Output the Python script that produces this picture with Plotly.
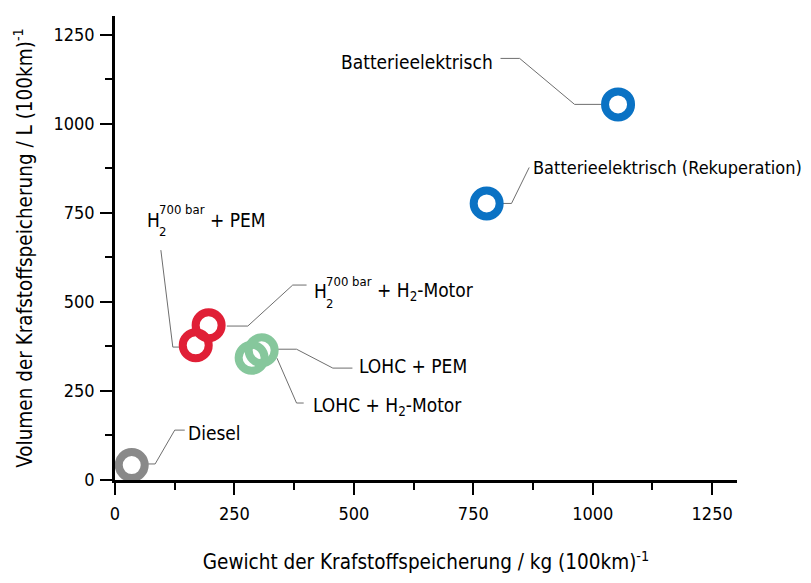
import plotly.graph_objects as go

# ---- data ----
names = ["Diesel", "H2 700bar + PEM", "H2 700bar + H2-Motor", "LOHC + H2-Motor", "LOHC + PEM",
         "Batterieelektrisch (Rekuperation)", "Batterieelektrisch"]
weight = [35, 169, 196, 286, 307, 778, 1053]      # kg (100km)^-1
volume = [42, 378, 434, 343, 364, 776, 1054]      # L (100km)^-1
colors = ["#898989", "#E01F36", "#E01F36", "#86C79C", "#86C79C", "#0A72C4", "#0A72C4"]

x_ticks = [0, 250, 500, 750, 1000, 1250]
y_ticks = [0, 250, 500, 750, 1000, 1250]

# simple labels: text, x, y (data units, left anchor), font size
simple_labels = [
    ("Diesel", 148, 132, 19),
    ("LOHC + PEM", 506, 320, 19),
    ("LOHC + H<sub>2</sub>-Motor", 410, 205, 19),
    ("Batterieelektrisch", 468, 1174, 19),
    ("Batterieelektrisch (Rekuperation)", 871, 876, 18),
]
# H2 labels with stacked sub/superscript: tail text, x, y
h2_labels = [
    ("+ PEM", 62, 730),
    ("+ H<sub>2</sub>-Motor", 413, 530),
]

# leader lines (data units)
leaders = [
    ([69, 84, 125, 146], [45, 45, 140, 140]),
    ([96, 121, 136], [645, 373, 373]),
    ([234, 278, 372, 401], [432, 432, 547, 547]),
    ([339, 380, 456, 497], [367, 367, 314, 314]),
    ([339, 380, 395], [342, 216, 216]),
    ([807, 847, 962, 1018], [1183, 1183, 1054, 1054]),
    ([811, 830, 867], [776, 776, 877]),
]

FONT = "DejaVu Sans Condensed, DejaVu Sans, sans-serif"
LBL = 19

fig = go.Figure()

for lx, ly in leaders:
    fig.add_trace(go.Scatter(x=lx, y=ly, mode="lines",
                             line=dict(color="#6e6e6e", width=1),
                             hoverinfo="skip", showlegend=False))

fig.add_trace(go.Scatter(
    x=weight, y=volume, mode="markers", text=names,
    marker=dict(symbol="circle-open", size=26, color=colors,
                line=dict(width=8, color=colors)),
    showlegend=False))

annotations = []
for txt, x, y, fs in simple_labels:
    annotations.append(dict(x=x, y=y, xref="x", yref="y", text=txt, showarrow=False,
                            xanchor="left", yanchor="middle",
                            font=dict(family=FONT, size=fs, color="black")))
for tail, x, y in h2_labels:
    annotations.append(dict(x=x, y=y, xref="x", yref="y", text="H", showarrow=False,
                            xanchor="left", yanchor="middle",
                            font=dict(family=FONT, size=LBL, color="black")))
    annotations.append(dict(x=x, y=y, xref="x", yref="y", text="2", showarrow=False,
                            xanchor="left", yanchor="middle", xshift=12, yshift=-12,
                            font=dict(family=FONT, size=13, color="black")))
    annotations.append(dict(x=x, y=y, xref="x", yref="y", text="700 bar", showarrow=False,
                            xanchor="left", yanchor="middle", xshift=12, yshift=10,
                            font=dict(family=FONT, size=13, color="black")))
    annotations.append(dict(x=x, y=y, xref="x", yref="y", text=tail, showarrow=False,
                            xanchor="left", yanchor="middle", xshift=63,
                            font=dict(family=FONT, size=LBL, color="black")))

axis_common = dict(
    showline=True, linecolor="black", linewidth=2.5,
    ticks="outside", ticklen=12, tickwidth=2, tickcolor="black",
    showgrid=False, zeroline=False,
    tickfont=dict(family=FONT, size=18, color="black"),
    minor=dict(ticks="outside", ticklen=7, tickwidth=2, tickcolor="black", dtick=125, showgrid=False),
)

fig.update_layout(
    width=811, height=583,
    margin=dict(l=115, r=74, t=16, b=103),
    paper_bgcolor="white", plot_bgcolor="white",
    font=dict(family=FONT, color="black"),
    annotations=annotations,
    xaxis=dict(range=[0, 1302], tickvals=x_ticks, ticktext=[str(v) for v in x_ticks],
               ticklabelstandoff=4,
               title=dict(text="Gewicht der Krafstoffspeicherung / kg (100km)<sup>-1</sup>",
                          font=dict(family=FONT, size=20.5, color="black"), standoff=32),
               **axis_common),
    yaxis=dict(range=[0, 1302], tickvals=y_ticks, ticktext=[str(v) for v in y_ticks],
               ticklabelstandoff=2,
               title=dict(text="Volumen der Krafstoffspeicherung / L (100km)<sup>-1</sup>",
                          font=dict(family=FONT, size=20.5, color="black"), standoff=16),
               **axis_common),
)

fig.write_html("out.html")
